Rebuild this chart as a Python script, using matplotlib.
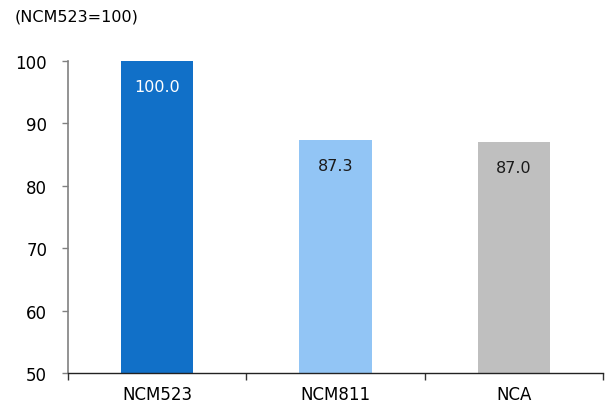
import matplotlib.pyplot as plt
import numpy as np

plt.rcParams['font.family'] = ['DejaVu Sans']

cathodes = ['NCM523', 'NCM811', 'NCA']
relativeCost = [100.0, 87.3, 87.0]
barColors = ['#1170C8', '#92C5F5', '#BFBFBF']
labelColors = ['white', '#1a1a1a', '#1a1a1a']

fig = plt.figure(figsize=(6.08, 4.06), dpi=100)
ax = fig.add_axes([68 / 608, 32 / 406, 535 / 608, 312 / 406])

x = np.arange(len(cathodes))
ax.bar(x, relativeCost, width=0.405, color=barColors, zorder=2)

for xi, val, c in zip(x, relativeCost, labelColors):
    ax.annotate(f'{val:.1f}', xy=(xi, val), xytext=(0, -18.5), textcoords='offset points',
                ha='center', va='center', fontsize=11.5, color=c)

ax.set_xlim(-0.5, len(cathodes) - 0.5)
ax.set_ylim(50, 100)
ax.set_yticks(np.arange(50, 101, 10))
ax.tick_params(axis='y', labelsize=12, length=4, width=1, color='#808080', pad=11)

# category labels centred, tick marks between categories
ax.set_xticks(x)
ax.set_xticklabels(cathodes)
ax.set_xticks(np.arange(-0.5, len(cathodes), 1.0), minor=True)
ax.tick_params(axis='x', which='major', length=0, labelsize=12, pad=9)
ax.tick_params(axis='x', which='minor', length=5, width=1, color='#333333')

for side in ['top', 'right']:
    ax.spines[side].set_visible(False)
ax.spines['left'].set_color('#808080')
ax.spines['left'].set_linewidth(1.2)
ax.spines['bottom'].set_color('#222222')
ax.spines['bottom'].set_linewidth(1)

fig.text(15 / 608, 1 - 17 / 406, '(NCM523=100)', ha='left', va='center', fontsize=11.5)

fig.savefig('out.png', dpi=100)
